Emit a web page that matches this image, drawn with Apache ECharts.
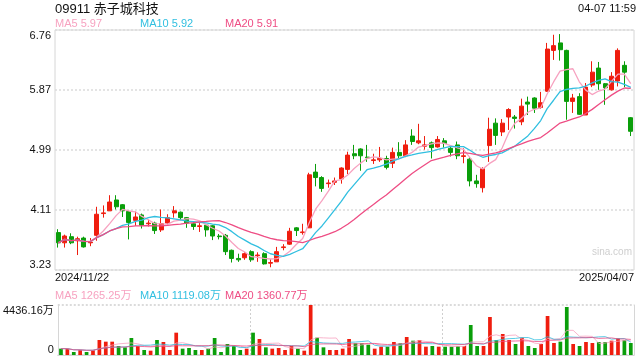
<!DOCTYPE html>
<html><head><meta charset="utf-8">
<script src="https://cdn.jsdelivr.net/npm/echarts@6/dist/echarts.min.js"></script>
<style>html,body{margin:0;padding:0;background:#fff}#c{width:640px;height:360px}</style>
</head><body><div id="c"></div>
<script>
const titleText = '09911 赤子城科技';
const timeText = '04-07 11:59';
const dates = [
'2024/11/22','2024/11/25','2024/11/26','2024/11/27','2024/11/28','2024/11/29',
'2024/12/02','2024/12/03','2024/12/04','2024/12/05','2024/12/06',
'2024/12/09','2024/12/10','2024/12/11','2024/12/12','2024/12/13',
'2024/12/16','2024/12/17','2024/12/18','2024/12/19','2024/12/20',
'2024/12/23','2024/12/24','2024/12/27','2024/12/30','2024/12/31',
'2025/01/02','2025/01/03','2025/01/06','2025/01/07','2025/01/08','2025/01/09','2025/01/10',
'2025/01/13','2025/01/14','2025/01/15','2025/01/16','2025/01/17',
'2025/01/20','2025/01/21','2025/01/22','2025/01/23','2025/01/24','2025/01/27','2025/01/28',
'2025/02/03','2025/02/04','2025/02/05','2025/02/06','2025/02/07',
'2025/02/10','2025/02/11','2025/02/12','2025/02/13','2025/02/14',
'2025/02/17','2025/02/18','2025/02/19','2025/02/20','2025/02/21',
'2025/02/24','2025/02/25','2025/02/26','2025/02/27','2025/02/28',
'2025/03/03','2025/03/04','2025/03/05','2025/03/06','2025/03/07',
'2025/03/10','2025/03/11','2025/03/12','2025/03/13','2025/03/14',
'2025/03/17','2025/03/18','2025/03/19','2025/03/20','2025/03/21',
'2025/03/24','2025/03/25','2025/03/26','2025/03/27','2025/03/28','2025/03/31',
'2025/04/01','2025/04/02','2025/04/03','2025/04/07'];
const opens  = [3.78,3.63,3.72,3.66,3.70,3.63,3.74,4.06,4.10,4.26,4.19,4.09,3.96,4.04,3.91,3.92,3.82,3.92,4.07,4.08,
4.00,3.91,3.87,3.89,3.88,3.73,3.74,3.52,3.40,3.41,3.50,3.44,3.47,3.33,3.35,3.56,3.61,3.85,3.78,3.85,
4.67,4.59,4.50,4.52,4.57,4.71,4.94,5.01,4.89,4.84,4.85,4.87,4.80,4.96,4.91,5.20,5.10,5.05,5.10,5.04,
5.13,5.02,5.07,4.90,4.86,4.54,4.44,5.06,5.39,5.26,5.48,5.48,5.41,5.70,5.76,5.62,5.86,6.46,6.57,6.46,
5.71,5.78,5.51,5.95,6.20,5.97,5.88,6.01,6.24,5.47];
const closes = [3.63,3.73,3.63,3.69,3.57,3.64,4.05,4.07,4.23,4.16,4.10,3.93,4.01,3.89,3.92,3.81,3.91,4.00,4.10,4.00,
3.92,3.87,3.88,3.82,3.73,3.72,3.50,3.40,3.38,3.47,3.38,3.45,3.32,3.34,3.50,3.57,3.80,3.81,3.79,4.63,
4.59,4.43,4.51,4.54,4.73,4.92,4.91,4.91,4.88,4.85,4.87,4.74,4.96,4.91,5.07,5.12,5.13,5.07,5.03,5.15,
5.09,4.96,4.91,4.91,4.54,4.50,4.72,5.30,5.21,5.39,5.59,5.46,5.64,5.67,5.61,5.69,6.48,6.53,6.47,5.71,
5.76,5.52,5.92,6.14,5.97,5.91,6.08,6.46,6.14,5.27];
const highs  = [3.83,3.75,3.77,3.72,3.72,3.70,4.16,4.18,4.33,4.33,4.20,4.10,4.09,4.06,3.97,3.94,4.12,4.05,4.17,4.09,
4.01,3.94,3.92,3.90,3.89,3.76,3.76,3.53,3.47,3.49,3.52,3.49,3.49,3.39,3.57,3.61,3.85,3.86,3.91,4.66,
4.79,4.61,4.56,4.59,4.74,4.97,5.07,5.02,5.07,4.94,5.04,4.91,5.03,5.11,5.14,5.30,5.38,5.20,5.12,5.20,
5.17,5.05,5.12,5.02,4.89,4.63,4.74,5.47,5.46,5.45,5.61,5.51,5.75,5.78,5.77,5.85,6.57,6.69,6.70,6.47,
5.82,5.83,5.98,6.30,6.29,5.98,6.14,6.49,6.30,5.48];
const lows   = [3.56,3.56,3.61,3.45,3.56,3.58,3.66,4.00,4.10,4.12,4.01,3.68,3.88,3.84,3.87,3.76,3.79,3.90,4.00,3.96,
3.85,3.82,3.79,3.72,3.67,3.68,3.45,3.34,3.35,3.38,3.35,3.35,3.31,3.27,3.35,3.52,3.60,3.73,3.75,3.85,
4.46,4.38,4.44,4.48,4.50,4.64,4.86,4.69,4.82,4.79,4.82,4.71,4.73,4.87,4.89,5.07,5.08,5.00,4.87,5.03,
5.03,4.90,4.86,4.80,4.46,4.44,4.37,4.82,5.07,5.20,5.29,5.31,5.36,5.51,5.54,5.60,5.85,6.32,6.31,5.44,
5.54,5.51,5.51,5.92,5.88,5.66,5.87,5.93,5.92,5.20];
// volume in 万
const volumes = [562,562,266,444,266,444,1331,1183,1183,798,680,1508,798,444,384,1331,1153,444,1981,562,
621,444,444,562,1508,266,976,798,444,562,1981,1420,680,562,621,444,798,562,384,4436.16,
1538,680,444,444,562,1420,1035,1035,917,562,739,739,1153,1035,1597,1271,1331,739,798,739,
739,739,798,798,2662,798,798,3371,1331,1863,1331,976,1538,798,621,976,3460,1065,1183,4259,
976,798,1153,1065,1153,1153,1271,1479,1331,1065];
const priceTicks = ['3.23','4.11','4.99','5.87','6.76'];
const volTicks = ['0','4436.16万'];
const maNames = ['MA5','MA10','MA20'];
const maPeriods = [5,10,20];
const maLegendValues = ['5.97','5.92','5.91'];
const volMaLegendValues = ['1265.25万','1119.08万','1360.77万'];

const UP = '#ef1d0e', DOWN = '#0a9e0a';
const MA_COLORS = ['#f7a2c0','#31bfe0','#ee4d84'];
const FONT = "'Liberation Sans', Arial, 'Noto Sans CJK SC', sans-serif";

function ma(arr, n){
  return arr.map((_, i) => {
    const s = Math.max(0, i - n + 1);
    let sum = 0;
    for (let j = s; j <= i; j++) sum += arr[j];
    return +(sum / (i - s + 1)).toFixed(4);
  });
}
const kData = opens.map((o, i) => [o, closes[i], lows[i], highs[i]]);
const volData = volumes.map((v, i) => ({value: v, itemStyle: {color: closes[i] >= opens[i] ? UP : DOWN}}));
const pMin = parseFloat(priceTicks[0]), pMax = parseFloat(priceTicks[priceTicks.length - 1]);
const vMax = parseFloat(volTicks[1]);

function nearestLabel(v, ticks){
  let best = ticks[0], bd = Infinity;
  ticks.forEach(t => { const d = Math.abs(parseFloat(t) - v); if (d < bd) { bd = d; best = t; } });
  return best;
}

const series = [{
  type: 'candlestick', xAxisIndex: 0, yAxisIndex: 0, data: kData, barWidth: '70%',
  itemStyle: {color: UP, color0: DOWN, borderColor: UP, borderColor0: DOWN, borderWidth: 1}
}];
maPeriods.forEach((p, k) => series.push({
  type: 'line', xAxisIndex: 0, yAxisIndex: 0, data: ma(closes, p), symbol: 'none', silent: true,
  lineStyle: {color: MA_COLORS[k], width: 1.3}
}));
series.push({type: 'bar', xAxisIndex: 2, yAxisIndex: 1, data: volData, barWidth: '58%'});
maPeriods.forEach((p, k) => series.push({
  type: 'line', xAxisIndex: 2, yAxisIndex: 1, data: ma(volumes, p), symbol: 'none', silent: true,
  lineStyle: {color: MA_COLORS[k], width: 1, opacity: 0.8}
}));

const graphic = [
  {type: 'text', x: 55, y: 9, style: {text: titleText, fill: '#111', font: '13px ' + FONT, align: 'left', verticalAlign: 'middle'}},
  {type: 'text', x: 636, y: 9, style: {text: timeText, fill: '#111', font: '11px ' + FONT, align: 'right', verticalAlign: 'middle'}},
  {type: 'text', x: 632, y: 252, style: {text: 'sina.com', fill: '#cfcfcf', font: '10px ' + FONT, align: 'right', verticalAlign: 'middle'}}
];
const legendX = [55, 140, 225];
maNames.forEach((n, k) => {
  graphic.push({type: 'text', x: legendX[k], y: 24, style: {text: n + ' ' + maLegendValues[k], fill: MA_COLORS[k], font: '11px ' + FONT, align: 'left', verticalAlign: 'middle'}});
  graphic.push({type: 'text', x: legendX[k], y: 296, style: {text: n + ' ' + volMaLegendValues[k], fill: MA_COLORS[k], font: '11px ' + FONT, align: 'left', verticalAlign: 'middle'}});
});

const chart = echarts.init(document.getElementById('c'), null, {renderer: 'canvas'});
chart.setOption({
  animation: false,
  backgroundColor: '#fff',
  textStyle: {fontFamily: FONT},
  grid: [
    {left: 55, right: 6, top: 30, height: 240, show: true, borderColor: '#d6d6d6', borderWidth: 1},
    {left: 55, right: 6, top: 305, height: 50}
  ],
  xAxis: [
    {type: 'category', gridIndex: 0, data: dates, boundaryGap: true,
     axisLine: {show: false}, axisTick: {show: false}, axisLabel: {show: false}, splitLine: {show: false}},
    {type: 'category', gridIndex: 0, data: dates, boundaryGap: false, position: 'bottom',
     axisLine: {show: false}, axisTick: {show: false}, splitLine: {show: false},
     axisLabel: {show: true, interval: (i) => i === 0 || i === dates.length - 1, color: '#111', fontSize: 11, margin: 2,
       alignMinLabel: 'left', alignMaxLabel: 'right'}},
    {type: 'category', gridIndex: 1, data: dates, boundaryGap: true,
     axisLine: {show: true, lineStyle: {color: '#d6d6d6'}}, axisTick: {show: false}, axisLabel: {show: false},
     splitLine: {show: true, interval: (i) => i === 30 || i === 60, lineStyle: {color: '#cfcfcf', type: [2, 2], width: 1}}}
  ],
  yAxis: [
    {type: 'value', gridIndex: 0, min: pMin, max: pMax, interval: (pMax - pMin) / (priceTicks.length - 1),
     axisLine: {show: false}, axisTick: {show: false},
     axisLabel: {color: '#111', fontSize: 11, margin: 4, formatter: (v) => nearestLabel(v, priceTicks),
       verticalAlignMinLabel: 'bottom', verticalAlignMaxLabel: 'top'},
     splitLine: {show: true, lineStyle: {color: '#dcdcdc', type: [2, 2], width: 1.5}}},
    {type: 'value', gridIndex: 1, min: 0, max: vMax, interval: vMax,
     axisLine: {show: true, lineStyle: {color: '#d6d6d6'}}, axisTick: {show: false},
     axisLabel: {color: '#111', fontSize: 11, margin: 4, formatter: (v) => v === 0 ? volTicks[0] : volTicks[1],
       verticalAlignMinLabel: 'bottom', verticalAlignMaxLabel: 'top'},
     splitLine: {show: true, lineStyle: {color: '#cfcfcf', type: [2, 2], width: 1.5}}},
    {type: 'value', gridIndex: 1, min: 0, max: vMax, position: 'right',
     axisLine: {show: true, lineStyle: {color: '#d6d6d6'}}, axisTick: {show: false}, axisLabel: {show: false}, splitLine: {show: false}}
  ],
  series: series,
  graphic: graphic
});
</script></body></html>
